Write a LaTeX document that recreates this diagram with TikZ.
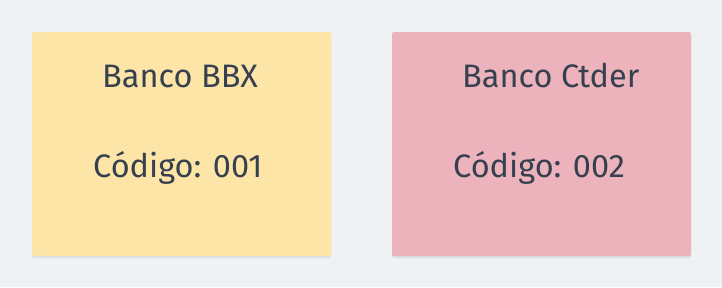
\documentclass[tikz,border=0pt]{standalone}
\usepackage{fontspec}
\setmainfont{Fira Sans}
\usetikzlibrary{shadows}
\definecolor{bgc}{HTML}{EFF2F5}
\definecolor{cardyellow}{HTML}{FCE5A6}
\definecolor{cardpink}{HTML}{ECB3BC}
\definecolor{ink}{HTML}{36404E}
\tikzset{
  card/.style={rounded corners=2pt, draw=none,
    drop shadow={shadow xshift=0pt, shadow yshift=-2pt, opacity=0.08, fill=black}},
  label/.style={anchor=base west, inner sep=0pt, text=ink, font=\fontsize{32.5}{38}\selectfont}
}
\begin{document}
\begin{tikzpicture}[x=1pt, y=-1pt]
  \fill[bgc] (0,0) rectangle (722,287);
  \useasboundingbox (0,0) rectangle (722,287);
  % two bank cards
  \path[card, fill=cardyellow] (32,32) rectangle (331,256);
  \path[card, fill=cardpink] (392,32) rectangle (691,256);
  \node[label] (t1) at (102,87) {Banco BBX};
  \node[label] (c1) at (93,177) {Código: 001};
  \node[label] (t2) at (462,87) {Banco Ctder};
  \node[label] (c2) at (453,177) {Código: 002};
\end{tikzpicture}
\end{document}
